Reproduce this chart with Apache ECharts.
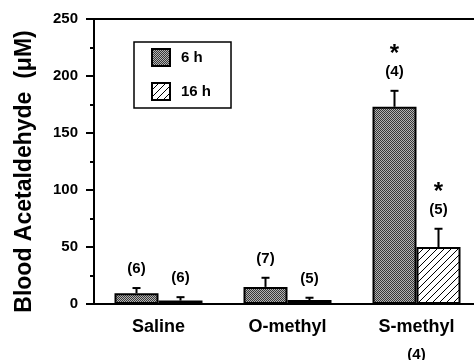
<!DOCTYPE html>
<html>
<head>
<meta charset="utf-8">
<script src="https://cdn.jsdelivr.net/npm/echarts@6/dist/echarts.min.js"></script>
<style>
  html, body { margin: 0; padding: 0; background: #fff; }
  #main { width: 474px; height: 360px; }
</style>
</head>
<body>
<div id="main"></div>
<script>
const categories = ['Saline', 'O-methyl', 'S-methyl'];
const categoryNotes = ['', '', '(4)'];
const seriesNames = ['6 h', '16 h'];
const mean6h = [9.5, 15, 173];
const err6h = [4.5, 8, 14];
const mean16h = [3, 3.5, 50];
const err16h = [3, 2, 16];
const n6h = ['(6)', '(7)', '(4)'];
const n16h = ['(6)', '(5)', '(5)'];
const star6h = [false, false, true];
const star16h = [false, false, true];
const yMin = 0;
const yMax = 250;
const yStep = 50;

const font = 'Arial, "Liberation Sans", Helvetica, sans-serif';

// fill patterns: grey stipple and "/" hatch
function stipple () {
  const c = document.createElement('canvas');
  c.width = 2; c.height = 2;
  const ctx = c.getContext('2d');
  ctx.fillStyle = '#b4b4b4';
  ctx.fillRect(0, 0, 2, 2);
  ctx.fillStyle = '#383838';
  ctx.fillRect(0, 0, 1, 1);
  ctx.fillRect(1, 1, 1, 1);
  return c;
}
function hatch () {
  const s = 7;
  const c = document.createElement('canvas');
  c.width = s; c.height = s;
  const ctx = c.getContext('2d');
  ctx.fillStyle = '#fff';
  ctx.fillRect(0, 0, s, s);
  ctx.strokeStyle = '#000';
  ctx.lineWidth = 1;
  ctx.beginPath();
  ctx.moveTo(-1, s + 1); ctx.lineTo(s + 1, -1);
  ctx.moveTo(-1, 1); ctx.lineTo(1, -1);
  ctx.moveTo(s - 1, s + 1); ctx.lineTo(s + 1, s - 1);
  ctx.stroke();
  return c;
}

function errorSeries (means, errs, notes, stars, offset) {
  return {
    type: 'custom',
    silent: true,
    z: 5,
    encode: { x: 0, y: 1 },
    data: means.map((m, i) => [i, m, errs[i]]),
    renderItem: (params, api) => {
      const i = api.value(0);
      const m = api.value(1);
      const e = api.value(2);
      const base = api.coord([i, m]);
      const top = api.coord([i, m + e]);
      const x = base[0] + offset;
      const children = [
        { type: 'line', shape: { x1: x, y1: base[1], x2: x, y2: top[1] }, style: { stroke: '#000', lineWidth: 2 } },
        { type: 'line', shape: { x1: x - 4, y1: top[1], x2: x + 4, y2: top[1] }, style: { stroke: '#000', lineWidth: 2 } },
        {
          type: 'text',
          style: {
            text: notes[params.dataIndex], x: x, y: top[1] - 19,
            align: 'center', verticalAlign: 'middle',
            font: 'bold 15px ' + font, fill: '#000'
          }
        }
      ];
      if (stars[params.dataIndex]) {
        children.push({
          type: 'text',
          style: {
            text: '*', x: x, y: top[1] - 36,
            align: 'center', verticalAlign: 'middle',
            font: 'bold 24px ' + font, fill: '#000'
          }
        });
      }
      return { type: 'group', children: children };
    }
  };
}

var myChart = echarts.init(document.getElementById('main'));
var option;

option = {
  animation: false,
  backgroundColor: '#fff',
  grid: {
    left: 94,
    top: 19,
    bottom: 56,
    width: 387,
    outerBoundsMode: 'none',
    containLabel: false,
    show: true,
    borderColor: '#000',
    borderWidth: 2
  },
  legend: {
    data: seriesNames,
    orient: 'vertical',
    left: 134,
    top: 42,
    padding: [6, 20, 7, 17],
    itemWidth: 18,
    itemHeight: 17,
    itemGap: 15,
    icon: 'rect',
    borderColor: '#000',
    borderWidth: 1.5,
    backgroundColor: '#fff',
    itemStyle: { borderColor: '#000', borderWidth: 2 },
    textStyle: { fontFamily: font, fontWeight: 'bold', fontSize: 15, color: '#000', padding: [0, 0, 0, 6] }
  },
  xAxis: {
    type: 'category',
    data: categories,
    axisLine: { lineStyle: { color: '#000', width: 2 } },
    axisTick: { length: 7, lineStyle: { color: '#000', width: 2 } },
    axisLabel: {
      margin: 10,
      formatter: (v, i) => categoryNotes[i] ? '{a|' + v + '}\n{b|' + categoryNotes[i] + '}' : '{a|' + v + '}',
      rich: {
        a: { fontFamily: font, fontWeight: 'bold', fontSize: 18, color: '#000', lineHeight: 27 },
        b: { fontFamily: font, fontWeight: 'bold', fontSize: 15, color: '#000', lineHeight: 27 }
      }
    }
  },
  yAxis: {
    type: 'value',
    min: yMin,
    max: yMax,
    interval: yStep,
    name: 'Blood Acetaldehyde  (μM)',
    nameLocation: 'middle',
    nameRotate: 90,
    nameGap: 58,
    nameTextStyle: { fontFamily: font, fontWeight: 'bold', fontSize: 23, color: '#000', padding: [0, 20, 0, 0] },
    axisLine: { show: true, lineStyle: { color: '#000', width: 2 } },
    axisTick: { show: true, length: 8, lineStyle: { color: '#000', width: 2 } },
    minorTick: { show: true, splitNumber: 2, length: 4, lineStyle: { color: '#000', width: 2 } },
    splitLine: { show: false },
    axisLabel: { margin: 16, fontFamily: font, fontWeight: 'bold', fontSize: 15, color: '#000' }
  },
  series: [
    {
      name: seriesNames[0],
      type: 'bar',
      barWidth: 44,
      barGap: '0%',
      data: mean6h,
      itemStyle: { color: { image: stipple(), repeat: 'repeat' }, borderColor: '#000', borderWidth: 2 }
    },
    {
      name: seriesNames[1],
      type: 'bar',
      barWidth: 44,
      barGap: '0%',
      data: mean16h,
      itemStyle: { color: { image: hatch(), repeat: 'repeat' }, borderColor: '#000', borderWidth: 2 }
    },
    errorSeries(mean6h, err6h, n6h, star6h, -22),
    errorSeries(mean16h, err16h, n16h, star16h, 22)
  ]
};

option && myChart.setOption(option);
</script>
</body>
</html>
